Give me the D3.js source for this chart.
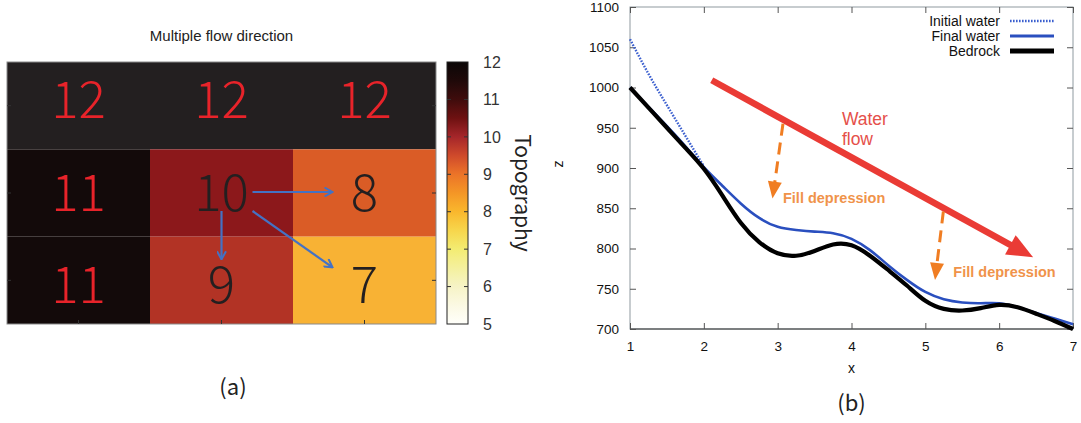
<!DOCTYPE html>
<html>
<head>
<meta charset="utf-8">
<script src="https://cdn.jsdelivr.net/npm/d3@7"></script>
<style>
  body { margin: 0; background: #fff; }
  svg { display: block; }
</style>
</head>
<body>
<svg id="fig" width="1081" height="423"></svg>
<script>
// ---------- Panel (a): 3x3 topography grid ----------
const gridRows = [0, 1, 2];
const gridCols = [0, 1, 2];
const topoRowTop = [12, 12, 12];
const topoRowMid = [11, 10, 8];
const topoRowBottom = [11, 9, 7];
const flowSource = [1, 1];                       // [row, col]
const flowTargets = [[1, 2], [2, 1], [2, 2]];    // downhill neighbours
const colorbarTicks = [5, 6, 7, 8, 9, 10, 11, 12];

// ---------- Panel (b): longitudinal profiles ----------
const profileX = [1, 1.25, 1.5, 1.75, 2, 2.25, 2.5, 2.75, 3, 3.25, 3.5, 3.75, 4,
                  4.25, 4.5, 4.75, 5, 5.25, 5.5, 5.75, 6, 6.25, 6.5, 6.75, 7];
const bedrock = [1000, 975, 950, 925, 899, 866, 832, 808, 794, 791, 797, 805, 804,
                 791, 773, 754, 735, 725, 723, 726, 730, 727, 719, 710, 700];
const finalWater = [1000, 976, 952, 927, 901, 878, 856, 838, 827, 823, 821, 819, 812,
                    798, 779, 761, 746, 737, 733, 732, 732, 727, 720, 713, 706];
const initialWaterX = [1, 1.25, 1.5, 1.75, 2];
const initialWater = [1060, 1017, 978, 940, 902];
const xTicks = [1, 2, 3, 4, 5, 6, 7];
const zTicks = [700, 750, 800, 850, 900, 950, 1000, 1050, 1100];
const legendNames = ["Initial water", "Final water", "Bedrock"];

const svg = d3.select("#fig");
svg.append("rect").attr("width", 1081).attr("height", 423).attr("fill", "#fff");

/* ================= Panel (a) ================= */
const A = { left: 7, right: 436, top: 62, bottom: 324 };
const colX = d3.scaleBand().domain(gridCols).range([A.left, A.right]);
const rowY = d3.scaleBand().domain(gridRows).range([A.top, A.bottom]);
// baselines of the big cell numbers (spaced a little wider than the rows)
const labelY = d3.scalePoint().domain(gridRows).range([118, 303]);
const grid = [topoRowTop, topoRowMid, topoRowBottom];

// fill colours of the grid cells
const cellColor = d3.scaleLinear()
  .domain([7, 8, 9, 10, 11, 12])
  .range(["#f8b234", "#da5c26", "#b23325", "#8c181b", "#130a0a", "#231f20"]);

// continuous colour bar (white -> yellow -> orange -> red -> black)
const barColor = d3.scaleLinear()
  .domain([5, 5.5, 6, 6.5, 7, 7.5, 8, 8.5, 9, 9.5, 10, 10.5, 11, 11.5, 12])
  .range(["#fffffa", "#fbf9e3", "#f6f3c6", "#f4f09d", "#f3ec72", "#f7d64c", "#f9b72d",
          "#f49626", "#ec7428", "#cf4a2b", "#a5262a", "#6e1111", "#3f0c0c", "#1f0909", "#0b0707"]);

const gA = svg.append("g");

gA.append("text")
  .attr("x", (A.left + A.right) / 2).attr("y", 41)
  .attr("text-anchor", "middle")
  .attr("font-family", "Liberation Sans, Arial, sans-serif")
  .attr("font-size", 15).attr("fill", "#222")
  .text("Multiple flow direction");

const cells = [];
grid.forEach((row, r) => row.forEach((v, c) => cells.push({ r, c, v })));

gA.selectAll("rect.cell").data(cells).join("rect")
  .attr("class", "cell")
  .attr("x", d => colX(d.c)).attr("y", d => rowY(d.r))
  .attr("width", colX.bandwidth()).attr("height", rowY.bandwidth())
  .attr("fill", d => cellColor(d.v));

gA.append("rect")
  .attr("x", A.left).attr("y", A.top)
  .attr("width", A.right - A.left).attr("height", A.bottom - A.top)
  .attr("fill", "none").attr("stroke", "#8a8a8a").attr("stroke-width", 1);

// small inward ticks at cell centres
const tickCol = "#333";
gridCols.forEach(c => {
  const x = colX(c) + colX.bandwidth() / 2;
  gA.append("line").attr("x1", x).attr("x2", x).attr("y1", A.bottom).attr("y2", A.bottom - 4)
    .attr("stroke", tickCol).attr("stroke-width", 1);
});
gridRows.forEach(r => {
  const y = rowY(r) + rowY.bandwidth() / 2;
  gA.append("line").attr("x1", A.left).attr("x2", A.left + 4).attr("y1", y).attr("y2", y)
    .attr("stroke", tickCol).attr("stroke-width", 1);
  gA.append("line").attr("x1", A.right).attr("x2", A.right - 4).attr("y1", y).attr("y2", y)
    .attr("stroke", tickCol).attr("stroke-width", 1);
});

// cell values
gA.selectAll("text.val").data(cells).join("text")
  .attr("class", "val")
  .attr("x", d => colX(d.c) + colX.bandwidth() / 2)
  .attr("y", d => labelY(d.r))
  .attr("text-anchor", "middle")
  .attr("font-family", "Noto Sans CJK SC, Noto Sans, sans-serif")
  .attr("font-weight", 300)
  .attr("font-size", 51)
  .attr("fill", d => d.v >= 11 ? "#e8232a" : "#231f20")
  .text(d => d.v);

// flow arrows from the source cell to its lower neighbours
const defs = svg.append("defs");
defs.append("marker")
  .attr("id", "blueHead").attr("viewBox", "0 -5 10 10")
  .attr("refX", 9).attr("refY", 0)
  .attr("markerWidth", 10).attr("markerHeight", 10)
  .attr("markerUnits", "userSpaceOnUse").attr("orient", "auto")
  .append("path").attr("d", "M1,-4.5L9,0L1,4.5")
  .attr("fill", "none").attr("stroke", "#4472c4").attr("stroke-width", 2);

const cellCenter = (r, c) => [colX(c) + colX.bandwidth() / 2, rowY(r) + rowY.bandwidth() / 2];
const [sx, sy] = cellCenter(flowSource[0], flowSource[1]);
gA.selectAll("line.flow").data(flowTargets).join("line")
  .attr("class", "flow")
  .each(function (t) {
    const dr = t[0] - flowSource[0], dc = t[1] - flowSource[1];
    const [tx, ty] = cellCenter(t[0], t[1]);
    d3.select(this)
      .attr("x1", sx + dc * 31).attr("y1", sy + dr * 18 - (dr === 0 ? 1 : 0))
      .attr("x2", tx - dc * 32).attr("y2", ty - dr * (dc ? 13 : 21) - (dr === 0 ? 1 : 0));
  })
  .attr("stroke", "#4472c4").attr("stroke-width", 2.2)
  .attr("marker-end", "url(#blueHead)");

// colour bar
const CB = { x: 447, w: 21, top: A.top, bottom: A.bottom };
const cbY = d3.scaleLinear().domain([5, 12]).range([CB.bottom, CB.top]);
const grad = defs.append("linearGradient").attr("id", "topoGrad")
  .attr("x1", 0).attr("y1", 1).attr("x2", 0).attr("y2", 0);
grad.selectAll("stop").data(d3.range(5, 12.01, 0.25)).join("stop")
  .attr("offset", d => (d - 5) / 7)
  .attr("stop-color", d => barColor(d));
gA.append("rect")
  .attr("x", CB.x).attr("y", CB.top).attr("width", CB.w).attr("height", CB.bottom - CB.top)
  .attr("fill", "url(#topoGrad)").attr("stroke", "#222").attr("stroke-width", 1);

colorbarTicks.slice(1, -1).forEach(v => {
  const y = cbY(v);
  gA.append("line").attr("x1", CB.x).attr("x2", CB.x + 4).attr("y1", y).attr("y2", y)
    .attr("stroke", "#333").attr("stroke-width", 1);
  gA.append("line").attr("x1", CB.x + CB.w).attr("x2", CB.x + CB.w - 4).attr("y1", y).attr("y2", y)
    .attr("stroke", "#333").attr("stroke-width", 1);
});
gA.selectAll("text.cbl").data(colorbarTicks).join("text")
  .attr("class", "cbl")
  .attr("x", 483).attr("y", d => cbY(d))
  .attr("dy", "0.36em")
  .attr("font-family", "Liberation Sans, Arial, sans-serif")
  .attr("font-size", 16).attr("fill", "#333")
  .text(d => d);

gA.append("text")
  .attr("transform", `translate(515, ${(CB.top + CB.bottom) / 2}) rotate(90)`)
  .attr("text-anchor", "middle")
  .attr("font-family", "Noto Sans CJK SC, Noto Sans, sans-serif")
  .attr("font-size", 21).attr("fill", "#222")
  .text("Topography");

gA.append("text")
  .attr("x", 233).attr("y", 395).attr("text-anchor", "middle")
  .attr("font-family", "Noto Sans CJK SC, Noto Sans, sans-serif")
  .attr("font-size", 22).attr("fill", "#222")
  .text("(a)");

/* ================= Panel (b) ================= */
const B = { left: 630, right: 1073, top: 7, bottom: 329 };
const x = d3.scaleLinear().domain([1, 7]).range([B.left, B.right]);
const z = d3.scaleLinear().domain([700, 1100]).range([B.bottom, B.top]);
const gB = svg.append("g");
const tickFont = "Liberation Sans, Arial, sans-serif";

// frame
gB.append("rect")
  .attr("x", B.left).attr("y", B.top).attr("width", B.right - B.left).attr("height", B.bottom - B.top)
  .attr("fill", "none").attr("stroke", "#8f9aa0").attr("stroke-width", 1);
gB.append("line").attr("x1", B.left).attr("x2", B.right).attr("y1", B.bottom).attr("y2", B.bottom)
  .attr("stroke", "#333").attr("stroke-width", 1.2);

function styleAxis(g, labels) {
  g.select(".domain").remove();
  g.selectAll(".tick line").attr("stroke", "#555");
  g.selectAll(".tick text")
    .attr("font-family", tickFont).attr("font-size", 13.5).attr("fill", "#111")
    .style("display", labels ? null : "none");
}
gB.append("g").attr("transform", `translate(0,${B.bottom})`)
  .call(d3.axisBottom(x).tickValues(xTicks).tickFormat(d3.format("d"))
        .tickSizeInner(-6).tickSizeOuter(0).tickPadding(12))
  .call(g => styleAxis(g, true));
gB.append("g").attr("transform", `translate(0,${B.top})`)
  .call(d3.axisTop(x).tickValues(xTicks).tickSizeInner(-6).tickSizeOuter(0))
  .call(g => styleAxis(g, false));
gB.append("g").attr("transform", `translate(${B.left},0)`)
  .call(d3.axisLeft(z).tickValues(zTicks).tickFormat(d3.format("d"))
        .tickSizeInner(-6).tickSizeOuter(0).tickPadding(11))
  .call(g => styleAxis(g, true));
gB.append("g").attr("transform", `translate(${B.right},0)`)
  .call(d3.axisRight(z).tickValues(zTicks).tickSizeInner(-6).tickSizeOuter(0))
  .call(g => styleAxis(g, false));

gB.append("text")
  .attr("x", (B.left + B.right) / 2).attr("y", 373).attr("text-anchor", "middle")
  .attr("font-family", tickFont).attr("font-size", 14).attr("fill", "#111").text("x");
gB.append("text")
  .attr("transform", `translate(563, ${z(905)}) rotate(-90)`)
  .attr("text-anchor", "middle")
  .attr("font-family", tickFont).attr("font-size", 14).attr("fill", "#111").text("z");

// profile lines (smooth cubic spline through the sampled elevations)
const curve = d3.curveNatural;
const lineOf = (xs, ys) => d3.line().curve(curve)(xs.map((d, i) => [x(d), z(ys[i])]));
gB.append("path").attr("d", lineOf(initialWaterX, initialWater))
  .attr("fill", "none").attr("stroke", "#3b5fcf").attr("stroke-width", 2.4)
  .attr("stroke-dasharray", "1.6,1.4");
gB.append("path").attr("d", lineOf(profileX, finalWater))
  .attr("fill", "none").attr("stroke", "#2a4fbf").attr("stroke-width", 2.6);
gB.append("path").attr("d", lineOf(profileX, bedrock))
  .attr("fill", "none").attr("stroke", "#000").attr("stroke-width", 4.2)
  .attr("stroke-linejoin", "round");

// annotations (in data units)
const flowArrow = { from: [2.107, 1009], to: [6.46, 789] };
const flowLabel = { at: [3.87, 953], lines: ["Water", "flow"] };
const fillNotes = [
  { from: [3.072, 955], to: [2.93, 862], label: [3.072, 857] },
  { from: [5.244, 846], to: [5.131, 761], label: [5.379, 765] }
];

function arrow(g, p0, p1, headLen, headHalf, color, width, dash) {
  const x0 = x(p0[0]), y0 = z(p0[1]), x1 = x(p1[0]), y1 = z(p1[1]);
  const dx = x1 - x0, dy = y1 - y0, L = Math.hypot(dx, dy);
  const ux = dx / L, uy = dy / L;
  const bx = x1 - ux * headLen, by = y1 - uy * headLen;
  g.append("line").attr("x1", x0).attr("y1", y0).attr("x2", bx + ux).attr("y2", by + uy)
    .attr("stroke", color).attr("stroke-width", width)
    .attr("stroke-dasharray", dash || null);
  g.append("path")
    .attr("d", `M${x1},${y1}L${bx - uy * headHalf},${by + ux * headHalf}L${bx + uy * headHalf},${by - ux * headHalf}Z`)
    .attr("fill", color);
}

arrow(gB, flowArrow.from, flowArrow.to, 26, 11, "#ea3b35", 6.5);
gB.selectAll("text.flowlab").data(flowLabel.lines).join("text")
  .attr("class", "flowlab")
  .attr("x", x(flowLabel.at[0])).attr("y", (d, i) => z(flowLabel.at[1]) + i * 20)
  .attr("font-family", tickFont).attr("font-size", 17.5).attr("fill", "#e5504a")
  .text(d => d);

fillNotes.forEach(n => {
  arrow(gB, n.from, n.to, 17, 7, "#f07d22", 3, "12,7");
  gB.append("text")
    .attr("x", x(n.label[0])).attr("y", z(n.label[1]))
    .attr("font-family", tickFont).attr("font-weight", "bold")
    .attr("font-size", 14.5).attr("fill", "#f0934a")
    .text("Fill depression");
});

// legend
const legendStyles = [
  { color: "#3b5fcf", width: 2.4, dash: "1.6,1.4" },
  { color: "#2a4fbf", width: 2.8, dash: null },
  { color: "#000", width: 4.8, dash: null }
];
const lg = gB.append("g");
legendNames.forEach((name, i) => {
  const by = 26 + i * 15;
  lg.append("text").attr("x", 1000).attr("y", by).attr("text-anchor", "end")
    .attr("font-family", tickFont).attr("font-size", 14).attr("fill", "#111").text(name);
  lg.append("line").attr("x1", 1010).attr("x2", 1054).attr("y1", by - 5).attr("y2", by - 5)
    .attr("stroke", legendStyles[i].color).attr("stroke-width", legendStyles[i].width)
    .attr("stroke-dasharray", legendStyles[i].dash);
});

gB.append("text")
  .attr("x", (B.left + B.right) / 2).attr("y", 411).attr("text-anchor", "middle")
  .attr("font-family", "Noto Sans CJK SC, Noto Sans, sans-serif")
  .attr("font-size", 22).attr("fill", "#222")
  .text("(b)");
</script>
</body>
</html>
